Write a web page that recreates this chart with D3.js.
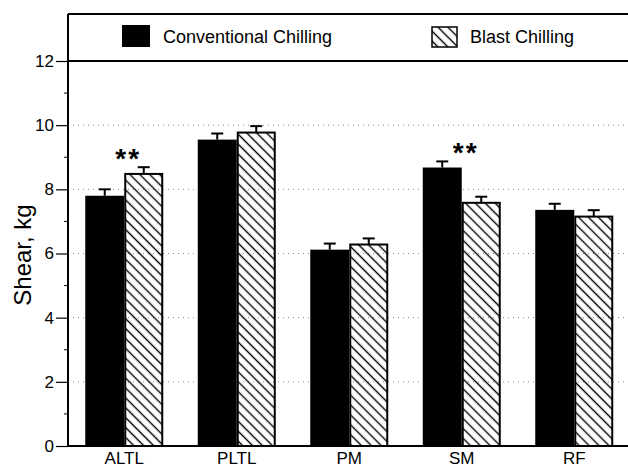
<!DOCTYPE html>
<html>
<head>
<meta charset="utf-8">
<script src="https://cdn.jsdelivr.net/npm/d3@7"></script>
<style>
  body { margin: 0; background: #fff; }
  text { font-family: "Liberation Sans", Arial, sans-serif; fill: #000; }
</style>
</head>
<body>
<script>
(function(){

    // data
    const categories = ["ALTL", "PLTL", "PM", "SM", "RF"];
    const conventional = [7.80, 9.55, 6.12, 8.68, 7.36];
    const blast = [8.48, 9.77, 6.28, 7.58, 7.15];
    const conventionalSE = [0.20, 0.19, 0.19, 0.19, 0.19];
    const blastSE = [0.21, 0.20, 0.19, 0.19, 0.20];
    const significant = ["ALTL", "SM"];
    const yTicks = [0, 2, 4, 6, 8, 10, 12];
    const seriesNames = ["Conventional Chilling", "Blast Chilling"];

    const svgWidth = 628,
        svgHeight = 469;

    const margin = { top: 61, left: 68, bottom: 23 };
    const frameTop = 14;
    const plotBottom = svgHeight - margin.bottom;

    const svg = d3.select("body")
        .append("svg")
        .attr("width", svgWidth)
        .attr("height", svgHeight);

    // diagonal hatch "\\\\"
    svg.append("defs").append("pattern")
        .attr("id", "hatch")
        .attr("patternUnits", "userSpaceOnUse")
        .attr("width", 7)
        .attr("height", 7)
        .attr("patternTransform", "rotate(-45)")
        .append("line")
        .attr("x1", 3.5).attr("y1", 0)
        .attr("x2", 3.5).attr("y2", 7)
        .attr("stroke", "#000")
        .attr("stroke-width", 1.4);

    const x = d3.scaleBand()
        .domain(categories)
        .range([margin.left, 630.5])
        .padding(0);

    const y = d3.scaleLinear()
        .domain([0, 12])
        .range([plotBottom, margin.top]);

    const barW = 39;

    // dotted gridlines
    svg.append("g")
        .selectAll("line")
        .data(yTicks.filter(d => d > 0 && d < 12))
        .enter().append("line")
        .attr("x1", margin.left)
        .attr("x2", svgWidth)
        .attr("y1", d => y(d))
        .attr("y2", d => y(d))
        .attr("stroke", "#888")
        .attr("stroke-width", 1)
        .attr("stroke-dasharray", "1,4");

    // left axis with major and minor ticks
    const leftAxis = d3.axisLeft(y)
        .tickValues(yTicks)
        .tickSize(12)
        .tickPadding(2)
        .tickFormat(d3.format("d"));

    const axisG = svg.append("g")
        .attr("transform", `translate(${margin.left},0)`)
        .call(leftAxis);
    axisG.select(".domain").remove();
    axisG.selectAll("text")
        .attr("font-size", 17)
        .attr("font-family", "Liberation Sans, Arial, sans-serif");
    axisG.selectAll(".tick line").attr("stroke-width", 1.2);

    svg.append("g")
        .selectAll("line")
        .data(d3.range(1, 12, 2))
        .enter().append("line")
        .attr("x1", margin.left - 4)
        .attr("x2", margin.left)
        .attr("y1", d => y(d))
        .attr("y2", d => y(d))
        .attr("stroke", "#000")
        .attr("stroke-width", 1);

    // frame lines
    svg.append("line")
        .attr("x1", margin.left).attr("x2", margin.left)
        .attr("y1", frameTop).attr("y2", plotBottom)
        .attr("stroke", "#000").attr("stroke-width", 2);
    svg.append("line")
        .attr("x1", margin.left).attr("x2", svgWidth)
        .attr("y1", frameTop).attr("y2", frameTop)
        .attr("stroke", "#000").attr("stroke-width", 2);
    svg.append("line")
        .attr("x1", margin.left).attr("x2", svgWidth)
        .attr("y1", y(12)).attr("y2", y(12))
        .attr("stroke", "#000").attr("stroke-width", 2);
    svg.append("line")
        .attr("x1", margin.left).attr("x2", svgWidth)
        .attr("y1", y(0)).attr("y2", y(0))
        .attr("stroke", "#000").attr("stroke-width", 2);

    const rows = categories.map((c, i) => ({
        cat: c,
        conv: conventional[i], convSE: conventionalSE[i],
        blast: blast[i], blastSE: blastSE[i]
    }));
    const center = d => x(d.cat) + x.bandwidth() / 2;

    // error bars (upper only)
    const errs = [];
    rows.forEach(d => {
        errs.push({ cx: center(d) - barW / 2, v: d.conv, se: d.convSE });
        errs.push({ cx: center(d) + barW / 2, v: d.blast, se: d.blastSE });
    });
    const errG = svg.append("g").attr("stroke", "#000").attr("stroke-width", 2);
    errG.selectAll(".stem")
        .data(errs)
        .enter().append("line")
        .attr("x1", d => d.cx).attr("x2", d => d.cx)
        .attr("y1", d => y(d.v)).attr("y2", d => y(d.v + d.se));
    errG.selectAll(".cap")
        .data(errs)
        .enter().append("line")
        .attr("x1", d => d.cx - 6).attr("x2", d => d.cx + 6)
        .attr("y1", d => y(d.v + d.se)).attr("y2", d => y(d.v + d.se));

    // bars
    svg.append("g")
        .selectAll("rect")
        .data(rows)
        .enter().append("rect")
        .attr("x", d => center(d) - barW)
        .attr("y", d => y(d.conv))
        .attr("width", barW)
        .attr("height", d => y(0) - y(d.conv))
        .attr("fill", "#000");

    svg.append("g")
        .selectAll("rect")
        .data(rows)
        .enter().append("rect")
        .attr("x", d => center(d) + 1)
        .attr("y", d => y(d.blast))
        .attr("width", barW - 2)
        .attr("height", d => y(0) - y(d.blast))
        .attr("fill", "url(#hatch)")
        .attr("stroke", "#000")
        .attr("stroke-width", 2);

    // significance marks
    svg.append("g")
        .selectAll("text")
        .data(rows.filter(d => significant.includes(d.cat)))
        .enter().append("text")
        .attr("x", d => center(d) + 4)
        .attr("y", d => y(Math.max(d.conv + d.convSE, d.blast + d.blastSE)) + 1)
        .attr("text-anchor", "middle")
        .attr("font-size", 28)
        .attr("font-weight", "bold")
        .attr("letter-spacing", 2)
        .text("**");

    // category labels
    svg.append("g")
        .selectAll("text")
        .data(categories)
        .enter().append("text")
        .attr("x", d => x(d) + x.bandwidth() / 2)
        .attr("y", 464)
        .attr("text-anchor", "middle")
        .attr("font-size", 17)
        .text(d => d);

    // y axis title
    svg.append("text")
        .attr("transform", "translate(31, 255) rotate(-90)")
        .attr("text-anchor", "middle")
        .attr("font-size", 24)
        .text("Shear, kg");

    // legend
    svg.append("rect")
        .attr("x", 122).attr("y", 25)
        .attr("width", 28).attr("height", 22)
        .attr("fill", "#000");
    svg.append("text")
        .attr("x", 163).attr("y", 43)
        .attr("font-size", 18)
        .text(seriesNames[0]);

    svg.append("rect")
        .attr("x", 432).attr("y", 27)
        .attr("width", 25).attr("height", 20)
        .attr("fill", "url(#hatch)")
        .attr("stroke", "#000")
        .attr("stroke-width", 1.5);
    svg.append("text")
        .attr("x", 470).attr("y", 43)
        .attr("font-size", 18)
        .text(seriesNames[1]);

})();
</script>
</body>
</html>
